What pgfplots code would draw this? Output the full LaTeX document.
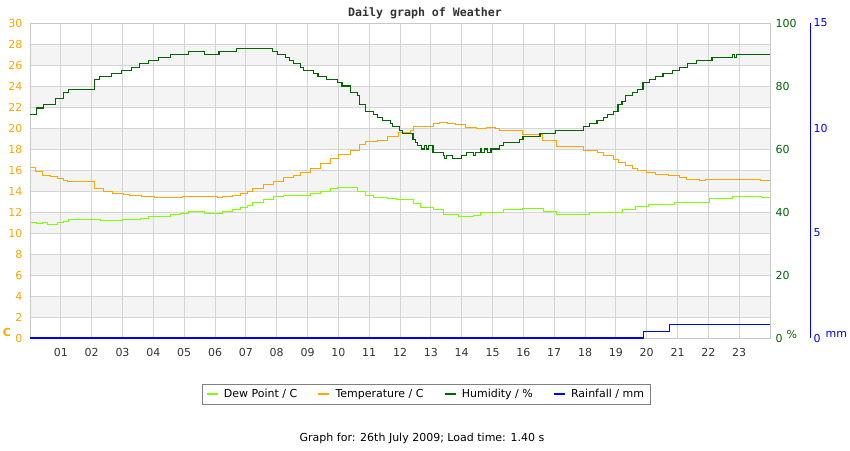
\documentclass[border=0pt]{standalone}
\usepackage{fontspec}
\setmainfont{DejaVu Sans}
\newfontfamily\titlefont{DejaVu Sans Mono}
\usepackage{pgfplots}
\pgfplotsset{compat=1.18}
\definecolor{dewgreen}{RGB}{128,255,0}
\definecolor{temporange}{RGB}{255,165,0}
\definecolor{humgreen}{RGB}{0,100,0}
\definecolor{rainblue}{RGB}{0,0,255}
\definecolor{bandgray}{RGB}{244,244,244}
\definecolor{gridgray}{RGB}{212,212,212}
\definecolor{bordergray}{RGB}{200,200,200}
\definecolor{textgray}{RGB}{51,51,51}

\pgfplotstableread{
h t
0 16.25
0.19 15.84
0.39 15.5
0.65 15.37
0.88 15.2
1.07 15.05
1.2 14.9
2.08 14.2
2.37 14.0
2.69 13.8
3.02 13.7
3.24 13.6
3.63 13.5
4.05 13.4
4.93 13.5
6.07 13.4
6.23 13.5
6.58 13.6
6.81 13.8
7.04 14.0
7.23 14.25
7.56 14.6
7.88 14.9
8.21 15.25
8.53 15.5
8.76 15.75
9.08 16.15
9.41 16.6
9.73 17.1
9.99 17.45
10.38 17.85
10.7 18.4
10.87 18.7
11.26 18.85
11.58 19.15
11.94 19.55
12.33 19.75
12.42 20.15
13.07 20.4
13.27 20.5
13.53 20.4
13.79 20.3
14.11 20.05
14.47 19.95
14.79 20.05
15.08 19.95
15.24 19.75
15.96 19.35
16.61 18.85
17.06 18.2
17.94 17.9
18.16 17.85
18.39 17.65
18.59 17.35
18.91 17.0
19.07 16.7
19.3 16.4
19.53 16.15
19.69 15.95
20.0 15.75
20.3 15.6
20.7 15.45
21.05 15.3
21.3 15.1
21.7 15.05
21.9 15.1
23.7 15.0
24 15.0
}\temptable

\pgfplotstableread{
h d
0 11.0
0.2 10.9
0.4 11.0
0.55 10.85
0.88 11.0
1.07 11.1
1.25 11.3
2.1 11.25
2.25 11.3
2.3 11.2
3.0 11.25
3.24 11.3
3.57 11.4
3.84 11.55
4.12 11.6
4.55 11.8
4.87 11.9
5.13 12.05
5.65 11.9
6.1 11.85
6.23 12.05
6.58 12.2
6.81 12.4
7.04 12.6
7.23 12.9
7.56 13.2
7.88 13.45
8.21 13.6
8.43 13.55
8.76 13.6
9.08 13.75
9.41 14.0
9.73 14.25
9.96 14.3
10.61 13.95
10.87 13.6
11.13 13.4
11.58 13.3
11.9 13.15
12.42 12.85
12.65 12.45
13.07 12.2
13.4 11.75
13.9 11.6
14.37 11.7
14.6 11.95
15.35 12.2
15.96 12.3
16.65 12.1
17.06 11.75
18.16 11.95
18.8 12.0
19.2 12.25
19.63 12.55
20.05 12.75
20.9 12.95
22.05 13.25
22.77 13.5
23.73 13.4
24 13.4
}\dewtable

\pgfplotstableread{
h rh
0 71
0.2 73
0.45 74
0.84 76
1.1 78
1.26 79
2.1 82
2.25 83
2.65 84
2.97 85
3.3 86
3.55 87
3.85 88
4.17 89
4.55 90
5.15 91
5.65 90
6.13 91
6.7 92
7.86 91
8.03 90
8.29 89
8.43 88
8.55 87
8.76 86
8.86 85
9.18 84
9.34 83
9.63 82
9.96 81
10.12 80
10.38 78
10.61 77
10.7 74
10.87 72
11.13 71
11.26 70
11.42 69
11.68 68
11.77 67
11.97 66
12.07 65
12.42 63
12.5 62
12.58 61
12.71 60
12.8 61
12.85 60
12.91 61
13.07 59
13.4 58
13.45 57
13.5 58
13.69 57
14.0 58
14.17 59
14.37 58
14.45 59
14.6 60
14.65 59
14.75 60
14.85 59
14.95 60
15.24 61
15.37 62
15.89 63
15.99 64
16.54 65
17.03 66
17.94 67
18.16 68
18.39 69
18.59 70
18.72 71
18.91 72
19.07 74
19.2 75
19.3 77
19.53 78
19.69 79
19.88 81
20.08 82
20.3 83
20.53 84
20.85 85
21.05 86
21.31 87
21.63 88
22.12 89
22.77 90
22.85 89
22.9 90
24 90
}\humtable

\pgfplotstableread{
h mm
0 0
19.86 0
19.9 0.32
20.7 0.32
20.75 0.65
24 0.65
}\raintable

\pgfplotsset{
  wx/.style={
    at={(30pt,112pt)}, anchor=south west,
    scale only axis, width=740pt, height=315pt,
    xmin=0, xmax=24,
    major tick length=0pt,
    /pgf/number format/assume math mode=true,
    ticklabel style={font=\fontsize{11}{13}\selectfont},
  },
}

\begin{document}
\begin{tikzpicture}
\useasboundingbox (0,0) rectangle (850pt,450pt);

% background bands
\begin{axis}[wx, ymin=0, ymax=30, hide axis]
\pgfplotsinvokeforeach{2,6,10,14,18,22,26}{
  \fill[bandgray] (axis cs:0,#1) rectangle (axis cs:24,#1+2);
}
\end{axis}

% temperature / dew point axis
\begin{axis}[wx, ymin=0, ymax=30,
  xtick={1,...,23},
  xticklabels={01,02,03,04,05,06,07,08,09,10,11,12,13,14,15,16,17,18,19,20,21,22,23},
  xticklabel style={textgray, yshift=-7pt},
  ytick={0,2,...,30},
  yticklabel style={temporange, xshift=-4pt},
  grid=major, major grid style={gridgray, line width=0.8pt},
  axis line style={bordergray, line width=0.8pt},
  legend columns=4,
  legend style={at={(0.535,-0.179)}, anchor=center, draw=gray,
    font=\fontsize{11}{13}\selectfont, inner xsep=4pt, inner ysep=3pt,
    /tikz/every odd column/.append style={column sep=3pt},
    /tikz/every even column/.append style={column sep=18pt}},
  legend image code/.code={\draw[line width=2.2pt] (0pt,0pt) -- (11pt,0pt);},
]
\addplot[const plot, dewgreen, line width=0.9pt] table[x=h, y=d] {\dewtable};
\addlegendentry{Dew Point / C}
\addplot[const plot, temporange, line width=0.9pt] table[x=h, y=t] {\temptable};
\addlegendentry{Temperature / C}
\addlegendimage{humgreen}
\addlegendentry{Humidity / \%}
\addlegendimage{rainblue}
\addlegendentry{Rainfall / mm}
\draw[bordergray, line width=2pt] (rel axis cs:0,0) -- (rel axis cs:0,1);
\end{axis}

% humidity axis
\begin{axis}[wx, ymin=0, ymax=100,
  axis x line=none, axis y line*=right, y axis line style={draw=none},
  ytick={0,20,...,100},
  yticklabel style={humgreen, xshift=2pt},
]
\addplot[const plot, humgreen, line width=1.1pt] table[x=h, y=rh] {\humtable};
\end{axis}

% rainfall axis
\begin{axis}[wx, ymin=0, ymax=15, clip=false,
  axis x line=none, axis y line*=right, y axis line style={draw=none},
  ytick={0,5,10,15},
  yticklabel style={rainblue, xshift=40pt},
]
\addplot[const plot, rainblue, line width=1.1pt] table[x=h, y=mm] {\raintable};
\draw[rainblue, line width=1pt] ([xshift=40pt]rel axis cs:1,0) -- ([xshift=40pt]rel axis cs:1,1);
\end{axis}

\node[textgray] at (425pt,437pt) {\titlefont\bfseries\fontsize{11.6}{14}\selectfont Daily graph of Weather};
\node[temporange] at (7pt,118pt) {\bfseries\fontsize{11}{13}\selectfont C};
\node[humgreen, anchor=west] at (783pt,116pt) {\fontsize{11}{13}\selectfont \%};
\node[rainblue, anchor=west] at (822pt,116pt) {\fontsize{11}{13}\selectfont mm};
\node[black] at (422pt,12pt) {\fontsize{11}{13}\selectfont Graph for: 26th July 2009; Load time: 1.40 s};
\end{tikzpicture}
\end{document}
